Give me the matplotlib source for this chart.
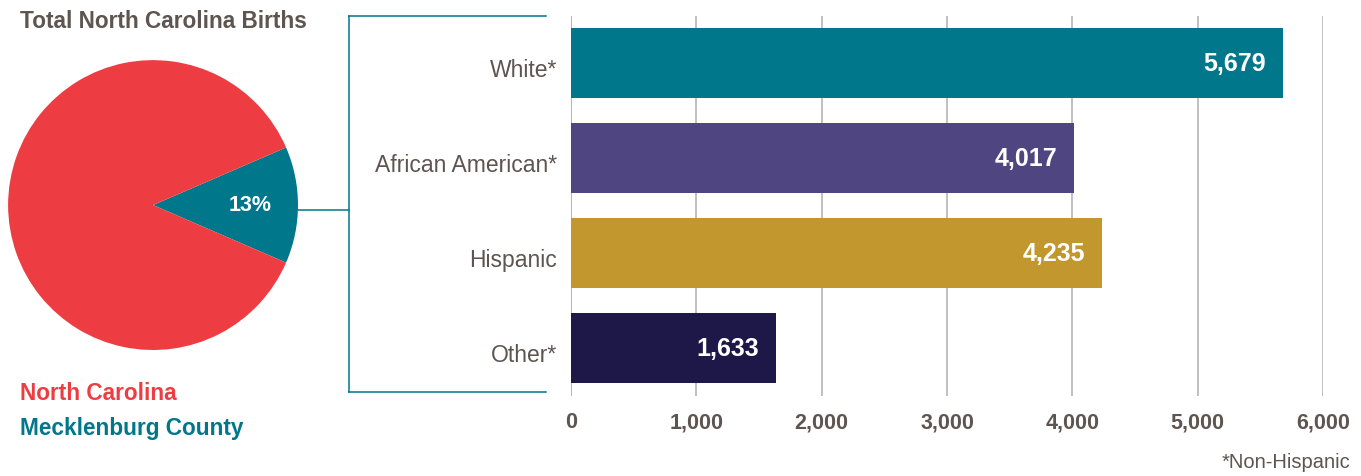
import matplotlib.pyplot as plt
from matplotlib.lines import Line2D
from matplotlib.transforms import ScaledTranslation

# births by race/ethnicity in Mecklenburg County
groups = ["White*", "African American*", "Hispanic", "Other*"]
births = [5679, 4017, 4235, 1633]
bar_colors = ["#00778a", "#4f4580", "#c1972e", "#1e1848"]

# share of total North Carolina births
pie_labels = ["Mecklenburg County", "North Carolina"]
pie_shares = [13, 87]
pie_colors = ["#00778a", "#ee3d42"]

x_ticks = [0, 1000, 2000, 3000, 4000, 5000, 6000]

text_gray = "#5e5550"
plt.rcParams["font.family"] = ["Liberation Sans", "DejaVu Sans"]

fig = plt.figure(figsize=(13.61, 4.76), dpi=100)

# pie, with the county slice pointing right
ax_pie = fig.add_axes([0.0059, 0.2647, 0.2131, 0.609])
half = pie_shares[0] / sum(pie_shares) * 360 / 2
wedges, _ = ax_pie.pie(pie_shares, colors=pie_colors, startangle=-half,
                       counterclock=True, radius=1.0,
                       wedgeprops=dict(linewidth=0))
ax_pie.set_xlim(-1, 1)
ax_pie.set_ylim(-1, 1)
ax_pie.set_aspect("equal")
ax_pie.text(0.67, 0.0, f"{pie_shares[0]}%", color="white", fontsize=15.5,
            fontweight="bold", ha="center", va="center")

fig.text(20 / 1361, 1 - 22 / 476, "Total North Carolina Births", color=text_gray,
         fontsize=16.3, fontweight="bold", ha="left", va="center")
fig.text(20 / 1361, 1 - 393 / 476, pie_labels[1], color=pie_colors[1],
         fontsize=16.3, fontweight="bold", ha="left", va="center")
fig.text(20 / 1361, 1 - 429 / 476, pie_labels[0], color=pie_colors[0],
         fontsize=16.3, fontweight="bold", ha="left", va="center")

# bar chart
ax = fig.add_axes([571 / 1361, 1 - 395.5 / 476, 752 / 1361, 380 / 476])
ypos = list(range(len(groups)))
ax.barh(ypos, births, height=0.73, color=bar_colors, zorder=3)
for y, v in zip(ypos, births):
    ax.annotate(f"{v:,}", xy=(v, y), xytext=(-12, -1), textcoords="offset points",
                ha="right", va="center", color="white", fontsize=18,
                fontweight="bold", zorder=4)

ax.set_xlim(0, 6000)
ax.set_ylim(3.5, -0.5)
ax.set_xticks(x_ticks)
ax.set_xticklabels([f"{t:,}" for t in x_ticks], fontsize=15.5, fontweight="bold",
                   color=text_gray)
ax.set_yticks(ypos)
ax.set_yticklabels(groups, fontsize=16.5, color=text_gray)
ax.tick_params(axis="both", length=0)
ax.tick_params(axis="x", pad=12)
ax.tick_params(axis="y", pad=10)
# category labels sit a little below the bar centres
shift = ScaledTranslation(0, -5 / 100, fig.dpi_scale_trans)
for lbl in ax.get_yticklabels():
    lbl.set_transform(lbl.get_transform() + shift)
ax.grid(axis="x", color="#b5b5b5", linewidth=1.2, zorder=0)
for side in ax.spines.values():
    side.set_visible(False)
ax.axvline(0, color="#b5b5b5", linewidth=1.2, zorder=1)

fig.text(1350 / 1361, 1 - 463 / 476, "*Non-Hispanic", color=text_gray,
         fontsize=14.5, ha="right", va="center")

# bracket linking the county slice to the bar chart
line_kw = dict(color="#00778a", linewidth=1.1, transform=fig.transFigure)
px = lambda x: x / 1361
py = lambda y: 1 - y / 476
fig.add_artist(Line2D([px(298), px(349)], [py(210), py(210)], **line_kw))
fig.add_artist(Line2D([px(349), px(349)], [py(16), py(392)], **line_kw))
fig.add_artist(Line2D([px(349), px(546)], [py(16), py(16)], **line_kw))
fig.add_artist(Line2D([px(349), px(546)], [py(392), py(392)], **line_kw))

fig.savefig("out.png", dpi=100)
